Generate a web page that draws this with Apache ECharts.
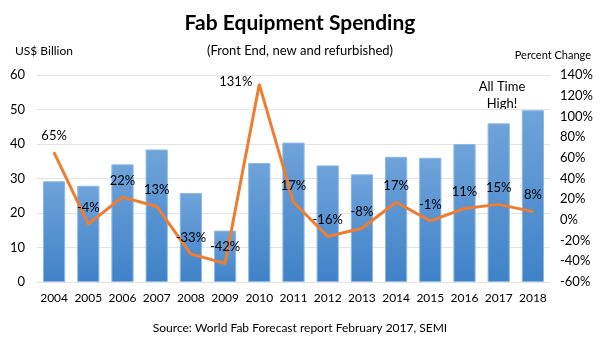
<!DOCTYPE html>
<html>
<head>
<meta charset="utf-8">
<script src="https://cdn.jsdelivr.net/npm/echarts@6/dist/echarts.min.js"></script>
<style>
  html, body { margin: 0; padding: 0; background: #fff; }
  #chart { width: 600px; height: 354px; }
</style>
</head>
<body>
<div id="chart"></div>
<script>
  // data
  const years = ['2004', '2005', '2006', '2007', '2008', '2009', '2010', '2011',
                 '2012', '2013', '2014', '2015', '2016', '2017', '2018'];
  const spending = [29.2, 27.9, 34.1, 38.4, 25.8, 14.9, 34.5, 40.4,
                    33.8, 31.2, 36.3, 36.0, 40.0, 46.0, 49.8];
  const pctChange = [65, -4, 22, 13, -33, -42, 131, 17, -16, -8, 17, -1, 11, 15, 8];

  const font = 'Lato, "Open Sans", sans-serif';

  let chart = echarts.init(document.getElementById('chart'));

  let lineData = pctChange.map(function (v, i) {
    let d = { value: v };
    if (years[i] == '2010') {
      d.label = { position: 'left', distance: 6, offset: [0, -3] };
    }
    return d;
  });

  let option = {
    animation: false,
    textStyle: { fontFamily: font },
    title: [
      {
        text: 'Fab Equipment Spending',
        left: 'center', top: 8,
        textStyle: { fontSize: 21, fontWeight: 'bold', color: '#000', fontFamily: font }
      },
      {
        text: '(Front End, new and refurbished)',
        left: 'center', top: 39,
        textStyle: { fontSize: 13, fontWeight: 'normal', color: '#000', fontFamily: font }
      },
      {
        text: 'US$ Billion',
        left: 10, top: 40,
        textStyle: { fontSize: 12, fontWeight: 'normal', color: '#000', fontFamily: font }
      },
      {
        text: 'Percent Change',
        right: 4, top: 45,
        textStyle: { fontSize: 11, fontWeight: 'normal', color: '#000', fontFamily: font }
      },
      {
        text: 'Source: World Fab Forecast report February 2017, SEMI',
        left: 'center', top: 317,
        textStyle: { fontSize: 12, fontWeight: 'normal', color: '#000', fontFamily: font }
      }
    ],
    graphic: [
      {
        type: 'text',
        x: 502, y: 78,
        style: {
          text: 'All Time\nHigh!',
          align: 'center',
          fontSize: 13,
          lineHeight: 17,
          fill: '#000',
          fontFamily: font
        }
      }
    ],
    grid: { left: 37, right: 50, top: 75, bottom: 72 },
    xAxis: {
      type: 'category',
      data: years,
      axisLine: { show: false },
      axisTick: { show: false },
      axisLabel: { color: '#000', fontSize: 12, margin: 10, interval: 0, fontFamily: font }
    },
    yAxis: [
      {
        type: 'value',
        min: 0, max: 60, interval: 10,
        axisLine: { show: false },
        axisTick: { show: false },
        axisLabel: { color: '#000', fontSize: 13, margin: 12, fontFamily: font },
        splitLine: { lineStyle: { color: '#e3e3e3', width: 1 } }
      },
      {
        type: 'value',
        min: -60, max: 140, interval: 20,
        axisLine: { show: false },
        axisTick: { show: false },
        splitLine: { show: false },
        axisLabel: { color: '#000', fontSize: 13, margin: 10, formatter: '{value}%', fontFamily: font }
      }
    ],
    series: [
      {
        name: 'Spending',
        type: 'bar',
        data: spending,
        barCategoryGap: '35%',
        itemStyle: {
          color: new echarts.graphic.LinearGradient(0, 0, 0, 1, [
            { offset: 0, color: '#6fa3da' },
            { offset: 1, color: '#3f82c8' }
          ]),
          borderColor: '#8db9e6',
          borderWidth: 1
        }
      },
      {
        name: 'Percent Change',
        type: 'line',
        yAxisIndex: 1,
        data: lineData,
        symbol: 'circle',
        symbolSize: 2,
        showSymbol: true,
        showAllSymbol: true,
        itemStyle: { color: '#ed7d31' },
        lineStyle: { color: '#ed7d31', width: 3 },
        label: {
          show: true,
          position: 'top',
          distance: 9,
          formatter: '{c}%',
          color: '#000',
          fontSize: 13,
          fontFamily: font
        },
        z: 5
      }
    ]
  };

  chart.setOption(option);
</script>
</body>
</html>
